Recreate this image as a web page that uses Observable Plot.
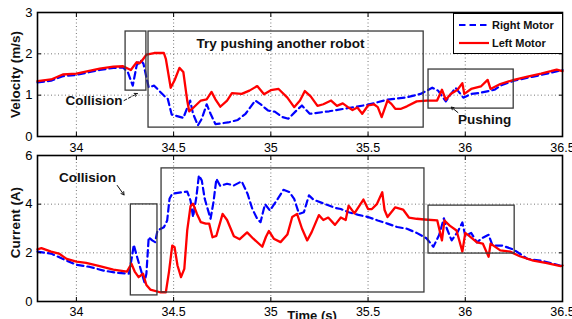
<!DOCTYPE html>
<html><head><meta charset="utf-8">
<script src="https://cdn.jsdelivr.net/npm/d3@7"></script>
<script src="https://cdn.jsdelivr.net/npm/@observablehq/plot@0.6"></script>
<style>
body{margin:0;background:#fff;}
#chart{position:relative;width:572px;height:319px;overflow:hidden;font-family:"Liberation Sans",Arial,sans-serif;}
#chart svg.plot{display:block;overflow:visible;}
#legend{position:absolute;left:453px;top:13px;width:110px;height:41px;border:1.5px solid #000;background:#fff;box-sizing:border-box;}
</style></head><body><div id="chart"></div>
<script>
// ---------- data ----------
const seriesNames = ["Right Motor", "Left Motor"];

// Velocity (m/s) – Left motor (red)
const velLeftT = [33.80,33.87,33.93,34.00,34.06,34.12,34.19,34.24,34.28,34.31,34.325,34.34,34.36,34.40,34.45,34.46,34.485,34.505,34.53,34.55,34.57,34.58,34.60,34.64,34.67,34.695,34.715,34.74,34.775,34.80,34.85,34.89,34.93,34.965,35.00,35.04,35.085,35.12,35.15,35.175,35.205,35.24,35.27,35.31,35.34,35.37,35.40,35.42,35.445,35.47,35.50,35.53,35.55,35.57,35.60,35.62,35.64,35.67,35.70,35.75,35.80,35.855,35.88,35.90,35.925,35.96,35.985,35.995,36.03,36.08,36.115,36.13,36.18,36.25,36.32,36.39,36.44,36.47,36.50];
const velLeftV = [1.34,1.38,1.50,1.52,1.58,1.64,1.69,1.70,1.61,1.80,1.77,1.85,1.98,2.02,2.02,1.88,1.18,1.36,1.66,1.56,0.87,0.61,0.69,0.87,0.90,1.08,0.90,0.72,0.87,1.05,1.03,1.11,1.22,1.02,1.12,1.15,0.94,0.71,0.87,1.10,0.97,0.74,0.78,0.87,0.74,0.80,0.70,0.64,0.70,0.55,0.75,0.78,0.71,0.47,0.87,0.79,0.67,0.67,0.73,0.85,0.87,0.87,1.13,0.89,1.03,1.13,1.29,1.03,1.15,1.21,1.37,1.15,1.27,1.37,1.45,1.52,1.58,1.62,1.58];

// Velocity (m/s) – Right motor (blue)
const velRightT = [33.80,33.87,33.93,34.00,34.06,34.12,34.19,34.24,34.265,34.29,34.31,34.33,34.345,34.36,34.372,34.40,34.45,34.47,34.49,34.55,34.585,34.60,34.625,34.645,34.67,34.69,34.715,34.78,34.83,34.87,34.92,34.95,34.985,35.02,35.06,35.09,35.13,35.16,35.20,35.30,35.40,35.50,35.60,35.70,35.77,35.83,35.86,35.90,35.92,35.95,35.99,36.03,36.08,36.15,36.18,36.25,36.35,36.42,36.50];
const velRightV = [1.31,1.35,1.46,1.49,1.55,1.61,1.66,1.67,1.55,1.23,1.72,1.85,1.76,1.43,1.19,1.23,0.99,0.91,0.53,0.45,0.87,0.55,0.27,0.43,0.78,0.55,0.30,0.34,0.40,0.55,0.87,0.77,0.63,0.60,0.47,0.43,0.62,0.75,0.55,0.61,0.69,0.77,0.89,0.95,1.03,1.18,1.11,0.85,0.99,1.18,0.94,1.03,1.06,1.13,1.23,1.35,1.45,1.52,1.61];

// Current (A) – Left motor (red)
const curLeftT = [33.80,33.82,33.87,33.91,33.95,34.00,34.05,34.12,34.19,34.26,34.283,34.30,34.32,34.343,34.36,34.38,34.43,34.46,34.476,34.493,34.505,34.52,34.538,34.555,34.57,34.587,34.60,34.62,34.64,34.665,34.683,34.70,34.72,34.752,34.775,34.81,34.84,34.878,34.91,34.956,34.975,34.99,35.015,35.05,35.085,35.11,35.135,35.16,35.187,35.21,35.247,35.27,35.295,35.33,35.36,35.385,35.40,35.43,35.476,35.50,35.52,35.545,35.573,35.585,35.60,35.64,35.68,35.71,35.75,35.79,35.856,35.88,35.893,35.92,35.955,35.985,36.00,36.02,36.06,36.09,36.12,36.13,36.18,36.23,36.28,36.35,36.42,36.49,36.50];
const curLeftC = [2.14,2.19,2.05,1.97,1.75,1.64,1.59,1.45,1.31,1.23,1.55,1.23,1.00,1.14,0.68,0.49,0.38,0.38,1.21,2.30,2.23,1.48,1.00,1.34,2.92,3.92,4.02,3.60,3.26,3.20,3.20,2.64,2.70,3.60,3.35,2.68,2.56,2.84,2.58,2.25,2.66,2.90,2.58,2.44,2.75,3.47,3.60,3.00,2.51,2.85,3.55,3.35,3.45,3.15,3.45,3.35,3.94,3.62,4.19,3.80,3.80,4.00,4.49,3.76,3.47,3.87,3.78,3.45,3.40,3.37,3.33,2.51,3.33,3.12,2.92,2.05,2.82,2.70,2.43,2.38,1.84,2.38,2.10,2.05,1.86,1.68,1.58,1.45,1.48];

// Current (A) – Right motor (blue)
const curRightT = [33.80,33.87,33.95,34.00,34.07,34.14,34.21,34.27,34.287,34.295,34.31,34.33,34.35,34.36,34.372,34.39,34.405,34.417,34.45,34.467,34.479,34.493,34.54,34.57,34.587,34.60,34.617,34.63,34.645,34.66,34.69,34.705,34.72,34.74,34.775,34.81,34.85,34.88,34.905,34.93,34.947,34.97,34.995,35.03,35.065,35.095,35.12,35.145,35.17,35.196,35.22,35.28,35.33,35.36,35.40,35.45,35.50,35.55,35.60,35.65,35.70,35.75,35.80,35.836,35.865,35.89,35.905,35.93,35.96,35.985,36.00,36.03,36.06,36.085,36.12,36.14,36.19,36.25,36.32,36.39,36.50];
const curRightC = [2.05,1.97,1.68,1.51,1.42,1.27,1.18,1.14,1.89,2.33,1.89,1.34,0.79,1.14,2.64,2.51,2.44,2.92,3.05,3.33,4.22,4.43,4.49,4.52,4.15,3.47,4.29,5.18,4.97,4.22,3.40,4.08,5.04,4.75,4.84,4.77,4.94,4.43,3.80,3.40,3.26,4.00,3.74,4.15,4.59,4.50,4.22,3.60,3.67,4.36,4.18,4.00,3.85,3.80,3.67,3.56,3.47,3.33,3.20,3.06,2.99,2.82,2.60,2.25,2.72,3.42,3.00,2.51,2.85,3.25,2.70,2.82,2.43,2.60,2.74,2.30,2.30,2.13,1.75,1.68,1.45];

// axes
const xDomain = [33.8, 36.5];
const xTicks = [34, 34.5, 35, 35.5, 36, 36.5];
const velDomain = [0, 3];
const velTicks = [0, 1, 2, 3];
const curDomain = [0, 6];
const curTicks = [0, 2, 4, 6];
const xLabel = "Time (s)";
const velLabel = "Velocity (m/s)";
const curLabel = "Current (A)";

// annotations
const velBoxes = [
  {x1: 34.253, x2: 34.360, y1: 1.11, y2: 2.54},
  {x1: 34.371, x2: 35.786, y1: 0.215, y2: 2.54},
  {x1: 35.811, x2: 36.249, y1: 0.675, y2: 1.62}
];
const velNotes = [
  {x: 35.05, y: 2.25, text: "Try pushing another robot"},
  {x: 34.09, y: 0.87, text: "Collision"},
  {x: 36.10, y: 0.41, text: "Pushing"}
];
const velArrows = [
  {x1: 34.245, y1: 0.87, x2: 34.314, y2: 1.04, dash: true},
  {x1: 35.962, y1: 0.58, x2: 35.928, y2: 0.71, dash: false}
];
const curBoxes = [
  {x1: 34.280, x2: 34.417, y1: 0.25, y2: 3.99},
  {x1: 34.438, x2: 35.790, y1: 0.37, y2: 5.47},
  {x1: 35.811, x2: 36.254, y1: 1.97, y2: 3.94}
];
const curNotes = [
  {x: 34.057, y: 5.10, text: "Collision"}
];
const curArrows = [
  {x1: 34.210, y1: 4.77, x2: 34.245, y2: 4.38, dash: false}
];

// ---------- drawing ----------
const FONT = '"Liberation Sans", Arial, sans-serif';
const RED = "#ff0000", BLUE = "#0000ff";
const DASH = "6.5,4";
const zip = (t, v) => t.map((d, i) => ({t: d, v: v[i]}));
const gridTicks = xTicks.filter(d => d > xDomain[0] && d < xDomain[1]);
const fmt = d => String(d);

function panel({height, marginTop, marginBottom, yDomain, yTicks, left, right, boxes, notes, arrows, label, labelDy, showXLabel, xPad}) {
  const yGrid = yTicks.filter(d => d > yDomain[0] && d < yDomain[1]);
  const marks = [
    Plot.gridX(gridTicks, {stroke: "#555", strokeOpacity: 0.8, strokeDasharray: "1,2.5"}),
    Plot.gridY(yGrid, {stroke: "#555", strokeOpacity: 0.8, strokeDasharray: "1,2.5"}),
    Plot.line(zip(right.t, right.v), {x: "t", y: "v", stroke: BLUE, strokeWidth: 2.2, strokeDasharray: DASH}),
    Plot.line(zip(left.t, left.v), {x: "t", y: "v", stroke: RED, strokeWidth: 2.3}),
    Plot.rect(boxes, {x1: "x1", x2: "x2", y1: "y1", y2: "y2", fill: "none", stroke: "#3a3a3a", strokeWidth: 1.3}),
    Plot.text(notes, {x: "x", y: "y", text: "text", fontWeight: "bold", fontSize: 13.5, fill: "#111", fontFamily: FONT}),
    Plot.arrow(arrows.filter(d => d.dash), {x1: "x1", y1: "y1", x2: "x2", y2: "y2", stroke: "#111", strokeWidth: 1, headLength: 5, strokeDasharray: "3,2"}),
    Plot.arrow(arrows.filter(d => !d.dash), {x1: "x1", y1: "y1", x2: "x2", y2: "y2", stroke: "#111", strokeWidth: 1, headLength: 5}),
    Plot.axisX(xTicks, {tickSize: -4, tickPadding: xPad, tickFormat: fmt, fontSize: 12.5, label: null, fontFamily: FONT}),
    Plot.axisX(xTicks, {anchor: "top", tickSize: -4, tickFormat: () => "", label: null}),
    Plot.axisY(yTicks, {tickSize: -4, tickPadding: 9, tickFormat: fmt, fontSize: 13, label: null, fontFamily: FONT}),
    Plot.axisY(yTicks, {anchor: "right", tickSize: -4, tickFormat: () => "", label: null}),
    Plot.text([label], {frameAnchor: "left", textAnchor: "middle", rotate: -90, dx: -22, dy: labelDy, fontWeight: "bold", fontSize: 13.5, fontFamily: FONT, fill: "#111"}),
    Plot.frame({stroke: "#000", strokeWidth: 1.6})
  ];
  if (showXLabel) marks.push(Plot.text([xLabel], {frameAnchor: "bottom", textAnchor: "middle", dx: 12, dy: 9, lineAnchor: "top", fontWeight: "bold", fontSize: 13, fontFamily: FONT, fill: "#111"}));
  return Plot.plot({
    width: 572, height, marginTop, marginBottom, marginLeft: 37, marginRight: 10,
    style: {background: "transparent", overflow: "visible", fontFamily: FONT, color: "#000"},
    x: {domain: xDomain},
    y: {domain: yDomain},
    marks
  });
}

const chart = document.getElementById("chart");
chart.appendChild(panel({
  height: 152, marginTop: 12, marginBottom: 16, yDomain: velDomain, yTicks: velTicks,
  left: {t: velLeftT, v: velLeftV}, right: {t: velRightT, v: velRightV},
  boxes: velBoxes, notes: velNotes, arrows: velArrows, label: velLabel, labelDy: 0, showXLabel: false, xPad: 11
}));
chart.appendChild(panel({
  height: 167, marginTop: 3, marginBottom: 18, yDomain: curDomain, yTicks: curTicks,
  left: {t: curLeftT, v: curLeftC}, right: {t: curRightT, v: curRightC},
  boxes: curBoxes, notes: curNotes, arrows: curArrows, label: curLabel, labelDy: -6, showXLabel: true, xPad: 10
}));

// legend (inside top panel, top-right corner)
const legend = d3.select(chart).append("div").attr("id", "legend");
const lsvg = legend.append("svg").attr("width", 107).attr("height", 38);
const styles = [{stroke: BLUE, dash: DASH}, {stroke: RED, dash: null}];
seriesNames.forEach((name, i) => {
  const y = 11 + i * 18;
  lsvg.append("line").attr("x1", 5).attr("x2", 35).attr("y1", y).attr("y2", y)
    .attr("stroke", styles[i].stroke).attr("stroke-width", 2.2).attr("stroke-dasharray", styles[i].dash);
  lsvg.append("text").attr("x", 38).attr("y", y).attr("dy", "0.35em")
    .attr("font-family", FONT).attr("font-size", 11).attr("font-weight", "bold").attr("fill", "#111").text(name);
});
</script></body></html>
